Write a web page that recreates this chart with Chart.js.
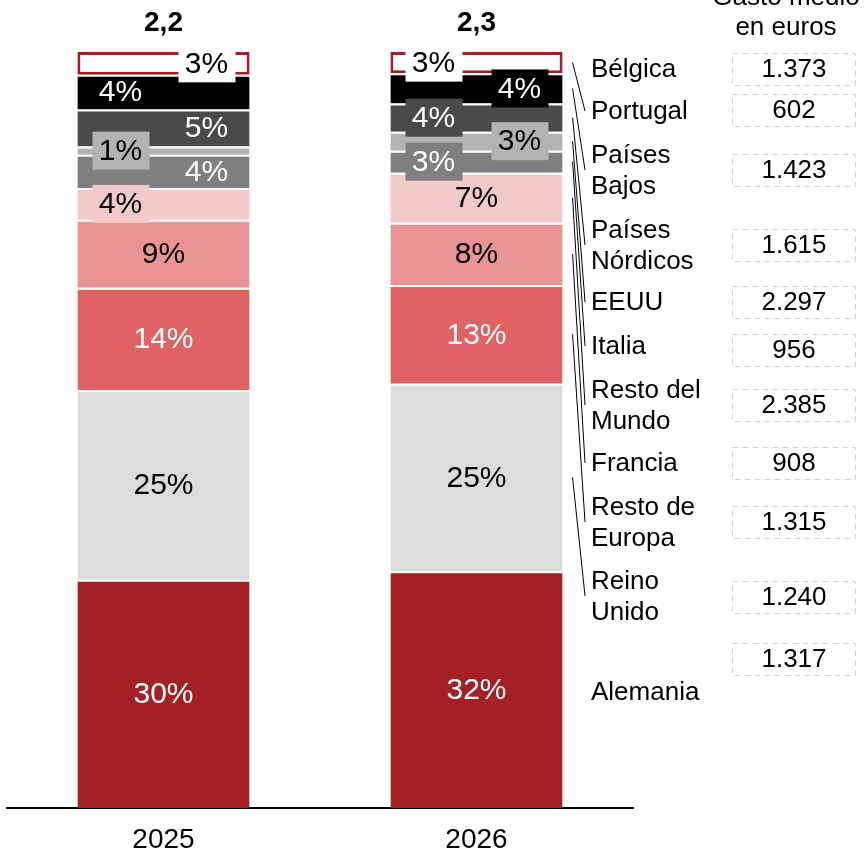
<!DOCTYPE html>
<html>
<head>
<meta charset="utf-8">
<script src="https://cdn.jsdelivr.net/npm/chart.js@4/dist/chart.umd.min.js"></script>
<style>
  body { margin: 0; background: #fff; }
  #wrap { width: 864px; height: 857px; }
</style>
</head>
<body>
<div id="wrap"><canvas id="mixChart" width="864" height="857"></canvas></div>
<script>
// data, bottom to top of the stack
const years = ['2025', '2026'];
const totals = ['2,2', '2,3'];
const countries = ['Alemania', 'Reino Unido', 'Resto de Europa', 'Francia', 'Resto del Mundo',
  'Italia', 'EEUU', 'Países Nórdicos', 'Países Bajos', 'Portugal'];
// printed percentages
const label2025 = [30, 25, 14, 9, 4, 4, 1, 5, 4, 3];
const label2026 = [32, 25, 13, 8, 7, 3, 3, 4, 4, 3];
// segment sizes (share of the column)
const share2025 = [30.2, 25.1, 13.5, 9.0, 4.2, 4.4, 1.1, 4.9, 4.6, 3.0];
const share2026 = [31.2, 24.7, 13.0, 8.2, 6.6, 2.9, 2.5, 3.7, 4.0, 2.8];

// right-hand legend, top to bottom, with average spend
const legendNames = [['Bélgica'], ['Portugal'], ['Países', 'Bajos'], ['Países', 'Nórdicos'], ['EEUU'],
  ['Italia'], ['Resto del', 'Mundo'], ['Francia'], ['Resto de', 'Europa'], ['Reino', 'Unido'], ['Alemania']];
const gastoMedio = ['1.373', '602', '1.423', '1.615', '2.297', '956', '2.385', '908', '1.315', '1.240', '1.317'];

// styling
const colors = ['#a32124', '#dcdcdc', '#e06363', '#e99494', '#f4c9c9', '#7f7f7f', '#b3b3b3', '#4a4a4a', '#000000', '#ffffff'];
const textColors = ['#fff', '#000', '#fff', '#000', '#000', '#fff', '#000', '#fff', '#fff', '#000'];
const pos2025 = ['c', 'c', 'c', 'c', 'l', 'r', 'l', 'r', 'l', 'r'];
const pos2026 = ['c', 'c', 'c', 'c', 'c', 'l', 'r', 'l', 'r', 'l'];
const box2025 = [0, 0, 0, 0, 1, 0, 1, 0, 0, 1];
const box2026 = [0, 0, 0, 0, 0, 1, 1, 1, 1, 1];
const legendY = [69, 111, 170, 245, 302, 346, 405, 463, 522, 596, 692];
const gastoY = [69, 110, 170, 245, 302, 350, 405, 463, 522, 597, 659];
const FONT = '"Liberation Sans", Arial, sans-serif';

const sum2025 = share2025.reduce((a, b) => a + b, 0);
const sum2026 = share2026.reduce((a, b) => a + b, 0);

const datasets = countries.map((name, i) => ({
  label: name,
  data: [share2025[i] / sum2025 * 100, share2026[i] / sum2026 * 100],
  backgroundColor: colors[i],
  borderColor: name === 'Portugal' ? '#a32124' : '#ffffff',
  borderWidth: name === 'Portugal' ? 3 : { top: 2, bottom: 0, left: 0, right: 0 },
  borderSkipped: false,
  barPercentage: 0.55,
  categoryPercentage: 1
}));

const labelPlugin = {
  id: 'labels',
  afterDatasetsDraw(chart) {
    const ctx = chart.ctx;
    ctx.save();
    ctx.textAlign = 'center';
    ctx.textBaseline = 'middle';
    ctx.font = '30px ' + FONT;
    chart.data.datasets.forEach((ds, i) => {
      const meta = chart.getDatasetMeta(i);
      meta.data.forEach((bar, j) => {
        const labels = j === 0 ? label2025 : label2026;
        const pos = (j === 0 ? pos2025 : pos2026)[i];
        const boxed = (j === 0 ? box2025 : box2026)[i];
        const x = bar.x + (pos === 'l' ? -43 : pos === 'r' ? 43 : 0);
        const y = (bar.y + bar.base) / 2;
        if (boxed) {
          ctx.fillStyle = colors[i];
          ctx.fillRect(x - 28, y - 19, 57, 38);
        }
        ctx.fillStyle = textColors[i];
        ctx.fillText(labels[i] + '%', x, y + 1);
      });
    });

    // totals above bars
    const first = chart.getDatasetMeta(0);
    ctx.font = 'bold 28px ' + FONT;
    ctx.fillStyle = '#000';
    first.data.forEach((bar, j) => ctx.fillText(totals[j], bar.x, 23));

    // legend labels and leader lines
    const last = chart.getDatasetMeta(0).data[1];
    const lineX0 = last.x + last.width / 2 + 10;
    ctx.font = '26px ' + FONT;
    ctx.textAlign = 'left';
    ctx.strokeStyle = '#000';
    ctx.lineWidth = 1;
    legendNames.forEach((lines, k) => {
      const cy = legendY[k];
      const n = lines.length;
      lines.forEach((t, m) => ctx.fillText(t, 591, cy + (m - (n - 1) / 2) * 31 + 1));
      const name = lines.join(' ');
      const di = countries.indexOf(name);
      if (di > 0) {
        const el = chart.getDatasetMeta(di).data[1];
        ctx.beginPath();
        ctx.moveTo(lineX0, (el.y + el.base) / 2);
        ctx.lineTo(585, cy);
        ctx.stroke();
      }
    });

    // average spend column
    ctx.textAlign = 'center';
    ctx.font = '26px ' + FONT;
    ctx.fillText('Gasto medio', 786, -2);
    ctx.fillText('en euros', 786, 28);
    gastoMedio.forEach((v, k) => {
      const cy = gastoY[k];
      ctx.setLineDash([6, 4]);
      ctx.strokeStyle = '#d4d4d4';
      ctx.strokeRect(732.5, cy - 15.5, 123, 32);
      ctx.setLineDash([]);
      ctx.fillStyle = '#000';
      ctx.fillText(v, 794, cy + 1);
    });
    ctx.restore();
  }
};

new Chart(document.getElementById('mixChart'), {
  type: 'bar',
  data: { labels: years, datasets: datasets },
  options: {
    responsive: false,
    animation: false,
    layout: { padding: { top: 52, left: 7, right: 231, bottom: 0 } },
    scales: {
      x: {
        stacked: true,
        grid: { display: false, drawTicks: false },
        border: { display: true, color: '#000', width: 2 },
        ticks: { color: '#000', font: { size: 28, family: FONT }, padding: 15 },
        afterFit(scale) { scale.height = 49; }
      },
      y: {
        stacked: true,
        display: false,
        min: 0,
        max: 100
      }
    },
    plugins: {
      legend: { display: false },
      tooltip: { enabled: false }
    }
  },
  plugins: [labelPlugin]
});
</script>
</body>
</html>
